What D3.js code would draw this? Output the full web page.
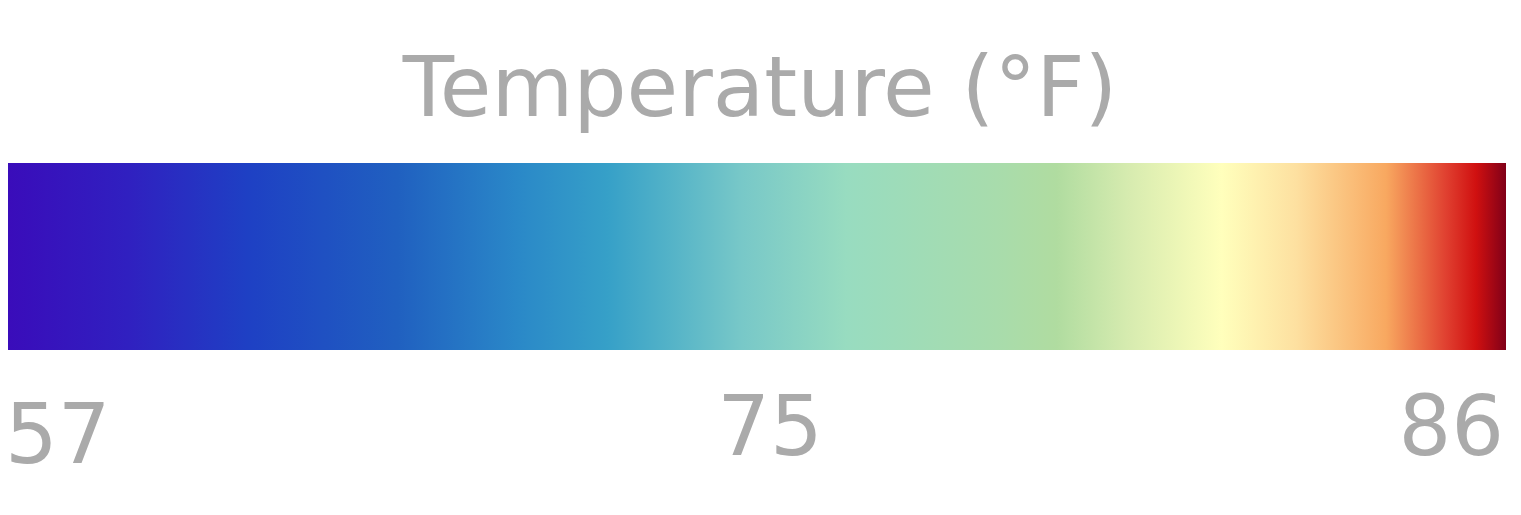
<!DOCTYPE html>
<html><head><meta charset="utf-8">
<script src="https://cdn.jsdelivr.net/npm/d3@7"></script>
<style>html,body{margin:0;padding:0;background:#fff;overflow:hidden}</style>
</head><body>
<svg id="chart" width="1521" height="515"></svg>
<script>
const title = "Temperature (°F)";
const tickLabels = ["57", "75", "86"];
const stopOffsets = [0, 0.08, 0.16, 0.26, 0.34, 0.40, 0.44, 0.49, 0.56, 0.66, 0.70, 0.75, 0.81, 0.86, 0.92, 0.96, 0.98, 1];
const stopColors = ["#3a0cba", "#3020c0", "#1e40c4", "#2060c0", "#2a88c8", "#36a0c8", "#52b2c8", "#78c8c8", "#98dcc0", "#a8dcac", "#b0dca0", "#d8ecb0", "#ffffbc", "#fde0a0", "#f8a860", "#e04030", "#d01010", "#800018"];

const svg = d3.select("#chart");
const x0 = 8, x1 = 1506, yTop = 163, yBot = 350;
const x = d3.scaleLinear().domain([0, 1]).range([x0, x1]);
const tickPos = d3.scalePoint().domain(tickLabels).range([x0, x1]);

const grad = svg.append("defs").append("linearGradient")
  .attr("id", "g").attr("x1", "0%").attr("x2", "100%").attr("y1", "0%").attr("y2", "0%");
grad.selectAll("stop").data(stopOffsets).join("stop")
  .attr("offset", d => d)
  .attr("stop-color", (d, i) => stopColors[i]);

svg.append("rect")
  .attr("x", x(0)).attr("y", yTop)
  .attr("width", x(1) - x(0)).attr("height", yBot - yTop)
  .attr("fill", "url(#g)");

svg.append("text")
  .attr("x", 760).attr("y", 116)
  .attr("text-anchor", "middle")
  .attr("font-family", "DejaVu Sans, Verdana, sans-serif")
  .attr("font-size", 84)
  .attr("fill", "#aaaaaa")
  .text(title);

const anchors = ["start", "middle", "end"];
const baselines = [463, 455, 455];
const offs = [-3, 13, -2];
svg.selectAll("text.tick").data(tickLabels).join("text")
  .attr("class", "tick")
  .attr("x", (d, i) => tickPos(d) + offs[i])
  .attr("y", (d, i) => baselines[i])
  .attr("text-anchor", (d, i) => anchors[i])
  .attr("font-family", "DejaVu Sans, Verdana, sans-serif")
  .attr("font-size", 83)
  .attr("fill", "#aaaaaa")
  .text(d => d);
</script>
</body></html>
